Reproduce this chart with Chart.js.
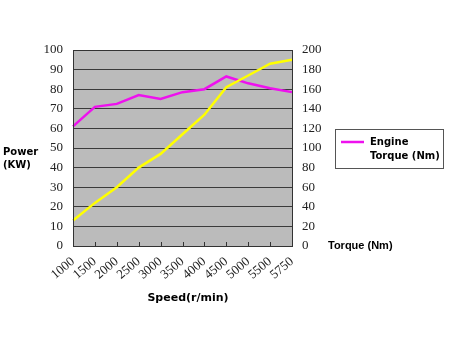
<!DOCTYPE html>
<html>
<head>
<meta charset="utf-8">
<script src="https://cdn.jsdelivr.net/npm/chart.js@4.4.1/dist/chart.umd.min.js"></script>
<style>
  html, body { margin: 0; padding: 0; background: #fff; }
  #wrap { position: relative; width: 450px; height: 338px; }
</style>
</head>
<body>
<div id="wrap"><canvas id="c" width="450" height="338"></canvas></div>
<script>
// Engine speed steps (r/min)
const speeds = ['1000', '1500', '2000', '2500', '3000', '3500', '4000', '4500', '5000', '5500', '5750'];
// Power output, kW (left axis)
const powerKW = [13, 22, 30, 40, 47, 57, 67, 81, 87, 93, 95];
// Engine torque, Nm (right axis)
const torqueNm = [122, 142, 145, 154, 150, 157, 160, 173, 166, 161, 157];
// Axis tick values
const powerTicks = [0, 10, 20, 30, 40, 50, 60, 70, 80, 90, 100];
const torqueTicks = [0, 20, 40, 60, 80, 100, 120, 140, 160, 180, 200];

const serif = '"Liberation Serif", "Times New Roman", serif';
const sans = '"DejaVu Sans", Verdana, sans-serif';

// Grey plot background, inside tick marks, side titles and the boxed legend
const decor = {
  id: 'decor',
  beforeDraw(chart) {
    const { ctx, chartArea: a } = chart;
    ctx.save();
    ctx.fillStyle = '#bbbbbb';
    ctx.fillRect(a.left, a.top, a.right - a.left, a.bottom - a.top);
    ctx.restore();
  },
  afterDraw(chart) {
    const { ctx, chartArea: a } = chart;
    const x = chart.scales.x;
    ctx.save();
    // plot frame
    ctx.strokeStyle = '#333';
    ctx.lineWidth = 1;
    ctx.strokeRect(Math.round(a.left) + 0.5, Math.round(a.top) + 0.5,
                   Math.round(a.right - a.left), Math.round(a.bottom - a.top));
    // category tick marks pointing into the plot
    ctx.beginPath();
    for (let i = 1; i < speeds.length - 1; i++) {
      const px = Math.round(x.getPixelForValue(i)) + 0.5;
      ctx.moveTo(px, a.bottom);
      ctx.lineTo(px, a.bottom - 4);
    }
    ctx.stroke();

    ctx.fillStyle = '#000';
    ctx.textBaseline = 'middle';
    ctx.font = 'bold 10px ' + sans;
    ctx.textAlign = 'left';
    ctx.fillText('Power', 3, 152);
    ctx.fillText('(KW)', 3, 165);

    ctx.font = 'bold 11px "Liberation Sans", Arial, sans-serif';
    ctx.fillText('Torque (Nm)', 328, 246);

    ctx.font = 'bold 11px ' + sans;
    ctx.textAlign = 'center';
    ctx.fillText('Speed(r/min)', 188, 298);

    // legend for the torque curve
    const ds = chart.data.datasets[1];
    ctx.fillStyle = '#fff';
    ctx.fillRect(335.5, 129.5, 108, 39);
    ctx.strokeStyle = '#555';
    ctx.strokeRect(335.5, 129.5, 108, 39);
    ctx.strokeStyle = ds.borderColor;
    ctx.lineWidth = 2.5;
    ctx.beginPath();
    ctx.moveTo(341, 142);
    ctx.lineTo(364, 142);
    ctx.stroke();
    ctx.fillStyle = '#000';
    ctx.textAlign = 'left';
    ctx.font = 'bold 10px ' + sans;
    const parts = ds.label.split('\n');
    parts.forEach((t, i) => ctx.fillText(t, 370, 142 + i * 14));
    ctx.restore();
  }
};

new Chart(document.getElementById('c'), {
  type: 'line',
  data: {
    labels: speeds,
    datasets: [
      {
        label: 'Power (KW)',
        data: powerKW,
        yAxisID: 'y',
        borderColor: '#ffff00',
        borderWidth: 2.5,
        pointRadius: 0,
        tension: 0,
        fill: false
      },
      {
        label: 'Engine\nTorque (Nm)',
        data: torqueNm,
        yAxisID: 'y2',
        borderColor: '#ee11ee',
        borderWidth: 2.5,
        pointRadius: 0,
        tension: 0,
        fill: false
      }
    ]
  },
  options: {
    responsive: false,
    animation: false,
    layout: { padding: { left: 0, right: 118, top: 50, bottom: 0 } },
    plugins: { legend: { display: false }, tooltip: { enabled: false } },
    scales: {
      x: {
        offset: false,
        grid: { display: false, drawTicks: false },
        border: { display: true, color: '#333' },
        ticks: {
          autoSkip: false,
          minRotation: 40, maxRotation: 40, padding: 8,
          color: '#222', font: { family: serif, size: 13 }
        },
        afterFit(s) { s.height = 92; }
      },
      y: {
        position: 'left',
        min: 0, max: 100,
        afterBuildTicks(s) { s.ticks = powerTicks.map(v => ({ value: v })); },
        grid: { color: '#3a3a3a', lineWidth: 1, drawTicks: false },
        border: { display: true, color: '#333' },
        ticks: { padding: 10, color: '#222', font: { family: serif, size: 13 } },
        afterFit(s) { s.width = 73; }
      },
      y2: {
        position: 'right',
        min: 0, max: 200,
        afterBuildTicks(s) { s.ticks = torqueTicks.map(v => ({ value: v })); },
        grid: { display: false, drawTicks: false },
        border: { display: true, color: '#333' },
        ticks: { padding: 10, color: '#222', font: { family: serif, size: 13 } },
        afterFit(s) { s.width = 40; }
      }
    }
  },
  plugins: [decor]
});
</script>
</body>
</html>
